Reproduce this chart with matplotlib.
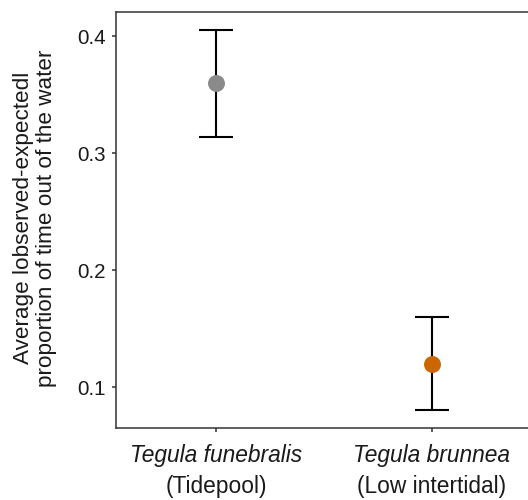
import matplotlib
matplotlib.use("Agg")
import matplotlib.pyplot as plt

species = ["Tegula funebralis", "Tegula brunnea"]
habitats = ["(Tidepool)", "(Low intertidal)"]
means = [0.3597, 0.1199]
upper = [0.4049, 0.1597]
lower = [0.3141, 0.0804]
colors = ["#8a8a8a", "#cc6600"]
yticks = [0.1, 0.2, 0.3, 0.4]
ylabel = "Average lobserved-expectedl\nproportion of time out of the water"

plt.rcParams["font.family"] = ["Liberation Sans", "DejaVu Sans"]

fig = plt.figure(figsize=(5.28, 5.0), dpi=100)
ax = fig.add_axes([116/528, 72/500, 416/528, 416/500])

xs = list(range(1, len(species) + 1))
for x, m, u, l, c in zip(xs, means, upper, lower, colors):
    ax.errorbar([x], [m], yerr=[[m - l], [u - m]], fmt="none", ecolor="black",
                elinewidth=1.5, capsize=12.5, capthick=1.5, zorder=2)
    ax.plot([x], [m], "o", color=c, markersize=12.2, zorder=3, markeredgewidth=0)

ax.set_xlim(0.537, 2.463)
ax.set_ylim(0.0653, 0.4205)
ax.set_yticks(yticks)
ax.set_yticklabels([f"{v:.1f}" for v in yticks])
ax.set_xticks(xs)
ax.set_xticklabels(["" for _ in xs])

for s in ax.spines.values():
    s.set_color("#333333")
    s.set_linewidth(1.1)
ax.tick_params(axis="both", length=3, width=1.1, color="#333333", labelcolor="#1a1a1a")
ax.tick_params(axis="y", labelsize=14.8, pad=4.3)

tr = ax.get_xaxis_transform()
for x, sp, hab in zip(xs, species, habitats):
    ax.text(x, -0.0817, sp, transform=tr, ha="center", va="baseline",
            fontsize=16.4, style="italic", color="#1a1a1a", clip_on=False)
    ax.text(x, -0.156, hab, transform=tr, ha="center", va="baseline",
            fontsize=16.4, color="#1a1a1a", clip_on=False)

fig.text(35/528, 1 - 218/500, ylabel, rotation=90, ha="center", va="center",
         multialignment="center", fontsize=16.2, color="#1a1a1a", linespacing=1.1)

fig.savefig("out.png", dpi=100)
